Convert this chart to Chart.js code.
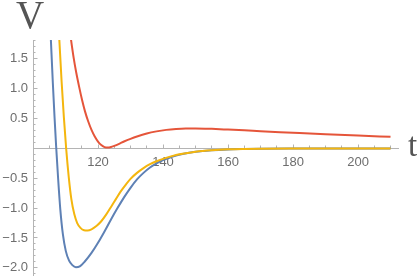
<!DOCTYPE html>
<html>
<head>
<meta charset="utf-8">
<script src="https://cdn.jsdelivr.net/npm/chart.js@4.4.1/dist/chart.umd.min.js"></script>
<style>
  body { margin: 0; background: #fff; }
  #wrap { position: relative; width: 420px; height: 276px; }
  .lab { position: absolute; font-family: 'Liberation Serif', 'DejaVu Serif', serif; color: #555; line-height: 1; }
</style>
</head>
<body>
<div id="wrap">
  <canvas id="chart"></canvas>
  <span class="lab" style="left:16px; top:-5px; font-size:39px;">V</span>
  <span class="lab" style="left:408px; top:129px; font-size:33px;">t</span>
</div>
<script>
'use strict';

// values
var blueT = [105.1, 105.5, 106.1, 106.6, 107.1, 107.7, 108.4, 109.2, 110.1, 111.1, 112.1, 113.2, 114.4, 116, 118, 120, 122, 124, 126, 128, 130, 132, 134, 136, 138, 140, 143, 146, 150, 155, 160, 165, 170, 180, 195, 210];
var blueV = [2.3, 1.82, 1.1, 0.55, 0.05, -0.48, -1.02, -1.44, -1.72, -1.88, -1.955, -1.99, -1.975, -1.89, -1.75, -1.58, -1.39, -1.19, -1.0, -0.82, -0.66, -0.52, -0.41, -0.32, -0.25, -0.195, -0.135, -0.095, -0.058, -0.032, -0.017, -0.01, -0.005, -0.0015, 0, 0];

var yellowT = [107.7, 108.1, 108.8, 109.5, 110.2, 111, 111.8, 112.7, 113.6, 114.6, 115.7, 116.8, 118, 119.5, 121, 122.5, 124, 125.5, 127, 128.5, 130, 132, 134, 136, 138, 140, 143, 146, 150, 155, 160, 165, 170, 180, 195, 210];
var yellowV = [2.3, 1.82, 1.12, 0.52, 0.0, -0.48, -0.85, -1.1, -1.25, -1.33, -1.37, -1.375, -1.355, -1.3, -1.22, -1.11, -0.98, -0.85, -0.72, -0.61, -0.51, -0.41, -0.33, -0.265, -0.215, -0.175, -0.125, -0.09, -0.055, -0.03, -0.016, -0.009, -0.005, -0.0015, 0, 0];

var redT = [110.8, 111.7, 112.5, 113.3, 114.2, 115.1, 116, 117, 118, 119, 120, 121, 122, 123, 124, 125, 126.5, 128, 130, 132, 135, 138, 141, 144, 147, 150, 155, 160, 165, 170, 176, 182, 190, 200, 210];
var redV = [2.2, 1.82, 1.52, 1.27, 1.03, 0.81, 0.62, 0.45, 0.31, 0.2, 0.115, 0.055, 0.022, 0.013, 0.022, 0.042, 0.077, 0.115, 0.16, 0.2, 0.25, 0.285, 0.31, 0.325, 0.333, 0.334, 0.327, 0.315, 0.302, 0.288, 0.272, 0.257, 0.238, 0.215, 0.193];

var xTicks = [100, 120, 140, 160, 180, 200];
var yTicks = [-2, -1.5, -1, -0.5, 0, 0.5, 1, 1.5];

var xMin = 100, xMax = 212.3;
var yMin = -2.12, yMax = 1.815;

function pts(ts, vs) {
  return ts.map(function (t, i) { return {x: t, y: vs[i]}; });
}

function noPad(scale) {
  scale.paddingTop = 0;
  scale.paddingBottom = 0;
  scale.paddingLeft = 0;
  scale.paddingRight = 0;
}

var axisGray = '#b4b4b4';
var labelGray = '#6e6e6e';
var tickFont = {family: "'Liberation Sans', Arial, sans-serif", size: 13};

function line(data, color) {
  return {
    data: data,
    borderColor: color,
    borderWidth: 2,
    pointRadius: 0,
    fill: false,
    cubicInterpolationMode: 'monotone',
    clip: 0
  };
}

var ctx = document.getElementById('chart');
new Chart(ctx, {
  type: 'line',
  data: {
    datasets: [
      line(pts(redT, redV), '#E5553A'),
      line(pts(yellowT, yellowV), '#F4B60E'),
      line(pts(blueT, blueV), '#5E81B5')
    ]
  },
  options: {
    responsive: true,
    maintainAspectRatio: false,
    animation: false,
    events: [],
    layout: {padding: {left: 0, top: 40, right: 22, bottom: 1}},
    plugins: {legend: {display: false}, tooltip: {enabled: false}},
    scales: {
      x: {
        type: 'linear',
        min: xMin,
        max: xMax,
        position: {y: 0},
        afterBuildTicks: function (s) { s.ticks = xTicks.map(function (v) { return {value: v}; }); },
        afterFit: noPad,
        border: {color: axisGray, width: 1},
        grid: {drawOnChartArea: false, drawTicks: true, tickLength: -4.5, color: axisGray},
        ticks: {
          color: labelGray,
          font: tickFont,
          padding: 11,
          maxRotation: 0,
          callback: function (v) { return v === 100 ? '' : String(v); }
        }
      },
      xm: {
        type: 'linear',
        min: xMin,
        max: xMax,
        position: {y: 0},
        afterFit: noPad,
        border: {display: false},
        grid: {drawOnChartArea: false, drawTicks: true, tickLength: -2.5, color: axisGray},
        ticks: {stepSize: 5, includeBounds: false, display: false}
      },
      y: {
        type: 'linear',
        min: yMin,
        max: yMax,
        position: 'left',
        afterBuildTicks: function (s) { s.ticks = yTicks.map(function (v) { return {value: v}; }); },
        afterFit: function (s) { noPad(s); s.width = 33; },
        border: {color: axisGray, width: 1},
        grid: {drawOnChartArea: false, drawTicks: true, tickLength: -4.5, color: axisGray},
        ticks: {
          color: labelGray,
          font: tickFont,
          padding: 9.5,
          callback: function (v) {
            if (v === 0) return '';
            return v.toFixed(1).replace('-', '\u2212');
          }
        }
      },
      ym: {
        type: 'linear',
        min: yMin,
        max: yMax,
        position: {x: 100},
        afterFit: noPad,
        border: {display: false},
        grid: {drawOnChartArea: false, drawTicks: true, tickLength: -2.5, color: axisGray},
        ticks: {stepSize: 0.1, includeBounds: false, display: false}
      }
    }
  }
});
</script>
</body>
</html>
